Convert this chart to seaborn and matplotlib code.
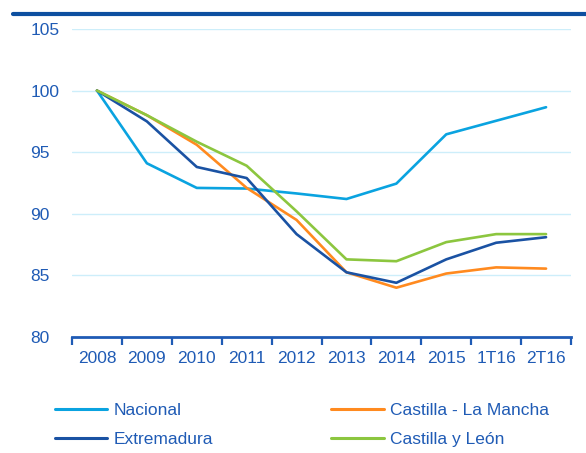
import pandas as pd
import matplotlib
matplotlib.use("Agg")
import matplotlib.pyplot as plt
import seaborn as sns
from matplotlib.lines import Line2D

# Data
periods = ["2008", "2009", "2010", "2011", "2012", "2013", "2014", "2015", "1T16", "2T16"]
nacional = [100, 94.1, 92.1, 92.05, 91.65, 91.2, 92.45, 96.45, 97.55, 98.65]
extremadura = [100, 97.5, 93.8, 92.9, 88.35, 85.25, 84.4, 86.3, 87.65, 88.1]
castilla_lm = [100, 98.0, 95.6, 92.1, 89.5, 85.25, 84.0, 85.15, 85.65, 85.55]
castilla_leon = [100, 98.0, 95.85, 93.9, 90.2, 86.3, 86.15, 87.7, 88.35, 88.35]

series = {
    "Nacional": nacional,
    "Castilla - La Mancha": castilla_lm,
    "Extremadura": extremadura,
    "Castilla y León": castilla_leon,
}
colors = {
    "Nacional": "#0aa3e0",
    "Castilla - La Mancha": "#ff8a1f",
    "Extremadura": "#1a52a3",
    "Castilla y León": "#8cc63f",
}

rows = []
for name, vals in series.items():
    for i, (p, v) in enumerate(zip(periods, vals)):
        rows.append({"pos": i, "periodo": p, "serie": name, "valor": v})
df = pd.DataFrame(rows)

sns.set_theme(style="white")
plt.rcParams["font.family"] = ["Liberation Sans", "DejaVu Sans"]
text_col = "#1f5bb5"

fig = plt.figure(figsize=(5.86, 4.53), dpi=100)
ax = fig.add_axes([0.1229, 0.2561, 0.8515, 0.6799])

sns.lineplot(data=df, x="pos", y="valor", hue="serie", palette=colors,
             hue_order=list(series.keys()), linewidth=1.9, ax=ax, legend=False)

ax.set_xlim(-0.5, len(periods) - 0.5)
ax.set_ylim(80, 105)
ax.set_yticks([80, 85, 90, 95, 100, 105])
ax.set_xticks(range(len(periods)))
ax.set_xticklabels(periods)
ax.set_xlabel("")
ax.set_ylabel("")

# gridlines
for y in [85, 90, 95, 100, 105]:
    ax.axhline(y, color="#cdeefa", linewidth=1.0, zorder=0)

for s in ["top", "right", "left"]:
    ax.spines[s].set_visible(False)
ax.spines["bottom"].set_color(text_col)
ax.spines["bottom"].set_linewidth(2.0)

ax.tick_params(axis="x", which="major", length=0, labelsize=12.5, colors=text_col, pad=10)
ax.tick_params(axis="y", length=0, labelsize=12.5, colors=text_col, pad=30)
for lab in ax.get_yticklabels():
    lab.set_horizontalalignment("left")
# boundary ticks between categories
ax.set_xticks([i - 0.5 for i in range(len(periods) + 1)], minor=True)
ax.tick_params(axis="x", which="minor", bottom=True, length=6, width=1.6,
               color=text_col, direction="out")

# legend in two columns
order = ["Nacional", "Extremadura", "Castilla - La Mancha", "Castilla y León"]
handles = [Line2D([0], [0], color=colors[n], linewidth=2.2) for n in order]
fig.legend(handles, order, loc="lower left", bbox_to_anchor=(0.067, -0.022),
           ncol=2, frameon=False, fontsize=12.5, labelcolor=text_col,
           handlelength=3.0, handletextpad=0.4, columnspacing=6.8, labelspacing=0.8)

# top rule below the (cropped) title
fig.add_artist(Line2D([0.022, 1.0], [0.97, 0.97], color="#0d4fa0", linewidth=3))

fig.savefig("out.png", dpi=100)
